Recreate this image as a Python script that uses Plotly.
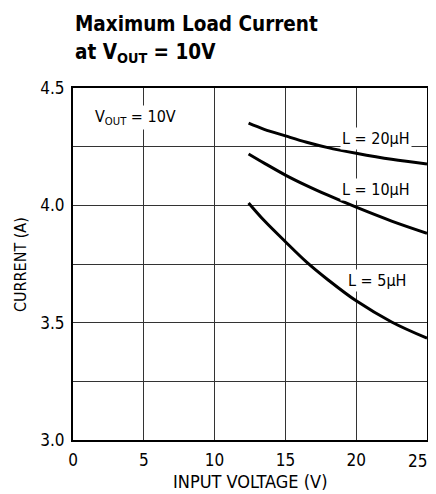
import plotly.graph_objects as go

# Data
v_20 = [12.4, 13.5, 15.0, 16.5, 18.0, 20.0, 22.5, 25.0]
i_20 = [4.350, 4.324, 4.296, 4.269, 4.246, 4.222, 4.196, 4.176]
v_10 = [12.4, 13.5, 15.0, 16.5, 18.0, 20.0, 22.5, 25.0]
i_10 = [4.219, 4.180, 4.129, 4.084, 4.043, 3.992, 3.933, 3.881]
v_5 = [12.4, 13.5, 15.0, 16.5, 18.0, 20.0, 22.5, 25.0]
i_5 = [4.010, 3.935, 3.845, 3.758, 3.683, 3.593, 3.503, 3.434]

x_ticks = [0, 5, 10, 15, 20]
x_last_tick = 25
y_ticks = [3.0, 3.5, 4.0, 4.5]

FONT = "DejaVu Sans Condensed, DejaVu Sans, sans-serif"

fig = go.Figure()
for vx, iy in [(v_20, i_20), (v_10, i_10), (v_5, i_5)]:
    fig.add_trace(go.Scatter(x=vx, y=iy, mode="lines",
                             line=dict(color="black", width=3, shape="spline"),
                             showlegend=False, hoverinfo="skip"))

grid = "#333333"
tick_font = dict(family=FONT, size=17, color="black")
fig.update_xaxes(range=[0, 25], tickvals=x_ticks, showgrid=True, gridcolor=grid, gridwidth=1,
                 showline=True, linecolor="black", linewidth=2, mirror=True, zeroline=False,
                 ticks="", ticklabelstandoff=4, automargin=False, ticklabeloverflow="allow",
                 tickfont=tick_font)
fig.update_yaxes(range=[3.0, 4.5], tickvals=y_ticks, tickformat=".1f", showgrid=True, gridcolor=grid,
                 gridwidth=1, minor=dict(dtick=0.25, showgrid=True, gridcolor=grid, gridwidth=1),
                 showline=True, linecolor="black", linewidth=2, mirror=True, zeroline=False,
                 ticks="", ticklabelstandoff=3, automargin=False, ticklabeloverflow="allow",
                 tickfont=tick_font)

# last x tick label, kept inside the visible window
fig.add_annotation(x=x_last_tick, yref="paper", y=-0.06, xanchor="right", yanchor="middle",
                   xshift=2, text=str(x_last_tick), showarrow=False, font=tick_font)

fig.add_annotation(xref="paper", yref="paper", x=0.5, y=-0.119, xanchor="center", yanchor="middle",
                   text="INPUT VOLTAGE (V)", showarrow=False,
                   font=dict(family=FONT, size=18, color="black"))
fig.add_annotation(xref="paper", yref="paper", x=-0.1497, y=0.497, xanchor="center", yanchor="middle",
                   text="CURRENT (A)", textangle=-90, showarrow=False,
                   font=dict(family=FONT, size=16, color="black"))

ann_font = dict(family=FONT, size=16, color="black")
fig.add_annotation(x=21.4, y=4.283, text="L = 20µH", showarrow=False, font=ann_font, bgcolor="white")
fig.add_annotation(x=21.4, y=4.066, text="L = 10µH", showarrow=False, font=ann_font, bgcolor="white")
fig.add_annotation(x=21.5, y=3.678, text="L = 5µH", showarrow=False, font=ann_font, bgcolor="white")
fig.add_annotation(x=1.4, y=4.375, xanchor="left", text="V<sub>OUT</sub> = 10V", showarrow=False,
                   font=ann_font, bgcolor="white")

title_font = dict(family=FONT, size=20.5, color="black", weight="bold")
fig.add_annotation(xref="paper", yref="paper", x=0.0, y=1.182, xanchor="left", yanchor="middle",
                   text="<b>Maximum Load Current</b>", showarrow=False, font=title_font)
fig.add_annotation(xref="paper", yref="paper", x=0.0, y=1.10, xanchor="left", yanchor="middle",
                   text="<b>at V<sub>OUT</sub> = 10V</b>", showarrow=False, font=title_font)

# The page adds an 8px body margin; margins place the plot area where the reference has it
fig.update_layout(width=436, height=494, margin=dict(l=65, r=17, t=80, b=62),
                  paper_bgcolor="white", plot_bgcolor="white")
fig.write_html("out.html")
